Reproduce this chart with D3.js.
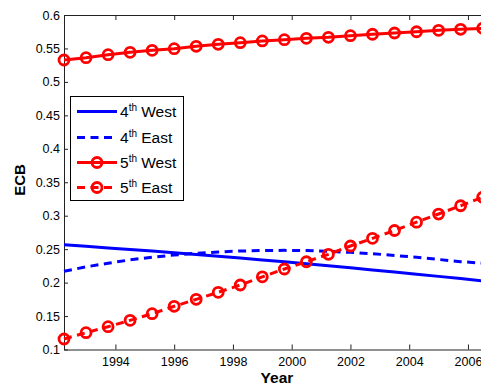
<!DOCTYPE html>
<html>
<head>
<meta charset="utf-8">
<script src="https://cdn.jsdelivr.net/npm/d3@7"></script>
<style>
  html, body { margin: 0; padding: 0; background: #fff; }
  svg { display: block; font-family: "Liberation Sans", Arial, sans-serif; }
</style>
</head>
<body>
<svg id="chart" width="481" height="385"></svg>
<script>
// Sample years (every 9 months)
const years = [1992.25, 1993, 1993.75, 1994.5, 1995.25, 1996, 1996.75, 1997.5, 1998.25, 1999,
               1999.75, 2000.5, 2001.25, 2002, 2002.75, 2003.5, 2004.25, 2005, 2005.75, 2006.5];

// ECB series
const west4 = [0.2565, 0.2543, 0.2519, 0.2496, 0.2471, 0.2446, 0.2420, 0.2394, 0.2367, 0.2339,
               0.2311, 0.2281, 0.2252, 0.2222, 0.2190, 0.2159, 0.2126, 0.2093, 0.2060, 0.2025];
const east4 = [0.2170, 0.2235, 0.2290, 0.2340, 0.2380, 0.2412, 0.2438, 0.2458, 0.2472, 0.2480,
               0.2482, 0.2478, 0.2468, 0.2452, 0.2432, 0.2406, 0.2378, 0.2346, 0.2313, 0.2290];
const west5 = [0.5327, 0.5362, 0.5407, 0.5442, 0.5472, 0.5496, 0.5532, 0.5562, 0.5586, 0.5612,
               0.5631, 0.5652, 0.5667, 0.5691, 0.5712, 0.5731, 0.5750, 0.5771, 0.5786, 0.5801];
const east5 = [0.1157, 0.1251, 0.1341, 0.1436, 0.1535, 0.1646, 0.1750, 0.1855, 0.1964, 0.2086,
               0.2203, 0.2312, 0.2423, 0.2547, 0.2662, 0.2779, 0.2903, 0.3025, 0.3149, 0.3275];

const xTicks = [1994, 1996, 1998, 2000, 2002, 2004, 2006];
const yTicks = [0.1, 0.15, 0.2, 0.25, 0.3, 0.35, 0.4, 0.45, 0.5, 0.55, 0.6];

const seriesNames = ["4", "4", "5", "5"];
const seriesRegions = ["West", "East", "West", "East"];

const svg = d3.select("#chart");
const plotLeft = 64, plotRight = 490, plotTop = 15, plotBottom = 349.5;

const x = d3.scaleLinear().domain([1992.25, 2006.75]).range([plotLeft, plotRight]);
const y = d3.scaleLinear().domain([0.1, 0.6]).range([plotBottom, plotTop]);

svg.append("rect").attr("width", 481).attr("height", 385).attr("fill", "#fff");

// Axes (box with inward ticks)
const axisColor = "#222";
const styleAxis = g => {
  g.select(".domain").attr("stroke", axisColor).attr("stroke-width", 1);
  g.selectAll(".tick line").attr("stroke", axisColor);
  g.selectAll(".tick text").attr("fill", "#000").attr("font-size", "12.5px")
    .attr("font-family", "Liberation Sans, Arial, sans-serif");
};

svg.append("g").attr("transform", `translate(0,${plotBottom})`)
  .call(d3.axisBottom(x).tickValues(xTicks).tickFormat(d3.format("d"))
        .tickSizeInner(-5).tickSizeOuter(0).tickPadding(8))
  .call(styleAxis);

svg.append("g").attr("transform", `translate(0,${plotTop})`)
  .call(d3.axisTop(x).tickValues(xTicks).tickFormat("")
        .tickSizeInner(-5).tickSizeOuter(0))
  .call(styleAxis);

svg.append("g").attr("transform", `translate(${plotLeft},0)`)
  .call(d3.axisLeft(y).tickValues(yTicks).tickFormat(d => String(+d.toFixed(2)))
        .tickSizeInner(-4).tickSizeOuter(0).tickPadding(4))
  .call(styleAxis);

// Axis titles
svg.append("text").attr("x", (plotLeft + plotRight) / 2).attr("y", 382.5)
  .attr("text-anchor", "middle").attr("font-weight", "bold").attr("font-size", "15.5px")
  .text("Year");
svg.append("text").attr("transform", `translate(25,180) rotate(-90)`)
  .attr("text-anchor", "middle").attr("font-weight", "bold").attr("font-size", "15px")
  .text("ECB");

// Data lines
const line = vals => d3.line().x((d, i) => x(years[i])).y(d => y(d))(vals);
const blue = "#0000ff", red = "#ff0000";
const dash = "8,5.5";

const series = [
  { vals: west4, color: blue, dash: null, marker: false },
  { vals: east4, color: blue, dash: dash, marker: false },
  { vals: west5, color: red, dash: null, marker: true },
  { vals: east5, color: red, dash: dash, marker: true }
];

series.forEach(s => {
  svg.append("path").attr("d", line(s.vals)).attr("fill", "none")
    .attr("stroke", s.color).attr("stroke-width", 3)
    .attr("stroke-dasharray", s.dash);
  if (s.marker) {
    svg.append("g").selectAll("circle").data(s.vals).join("circle")
      .attr("cx", (d, i) => x(years[i])).attr("cy", d => y(d)).attr("r", 5)
      .attr("fill", "none").attr("stroke", s.color).attr("stroke-width", 2.8);
  }
});

// Legend
const lg = svg.append("g");
lg.append("rect").attr("x", 70.5).attr("y", 96.5).attr("width", 113).attr("height", 104)
  .attr("fill", "#fff").attr("stroke", "#000").attr("stroke-width", 1);
const rowY = [111.5, 137.5, 162.5, 187.5];
series.forEach((s, i) => {
  const ry = rowY[i];
  lg.append("line").attr("x1", 77).attr("x2", 117).attr("y1", ry).attr("y2", ry)
    .attr("stroke", s.color).attr("stroke-width", 3).attr("stroke-dasharray", s.dash);
  if (s.marker) {
    lg.append("circle").attr("cx", 97).attr("cy", ry).attr("r", 5)
      .attr("fill", "none").attr("stroke", s.color).attr("stroke-width", 2.8);
  }
  const t = lg.append("text").attr("x", 120).attr("y", ry + 5.5).attr("font-size", "15.5px").attr("fill", "#000");
  t.append("tspan").text(seriesNames[i]);
  t.append("tspan").attr("font-size", "10px").attr("dy", -6.5).text("th");
  t.append("tspan").attr("dy", 6.5).text(" " + seriesRegions[i]);
});
</script>
</body>
</html>
